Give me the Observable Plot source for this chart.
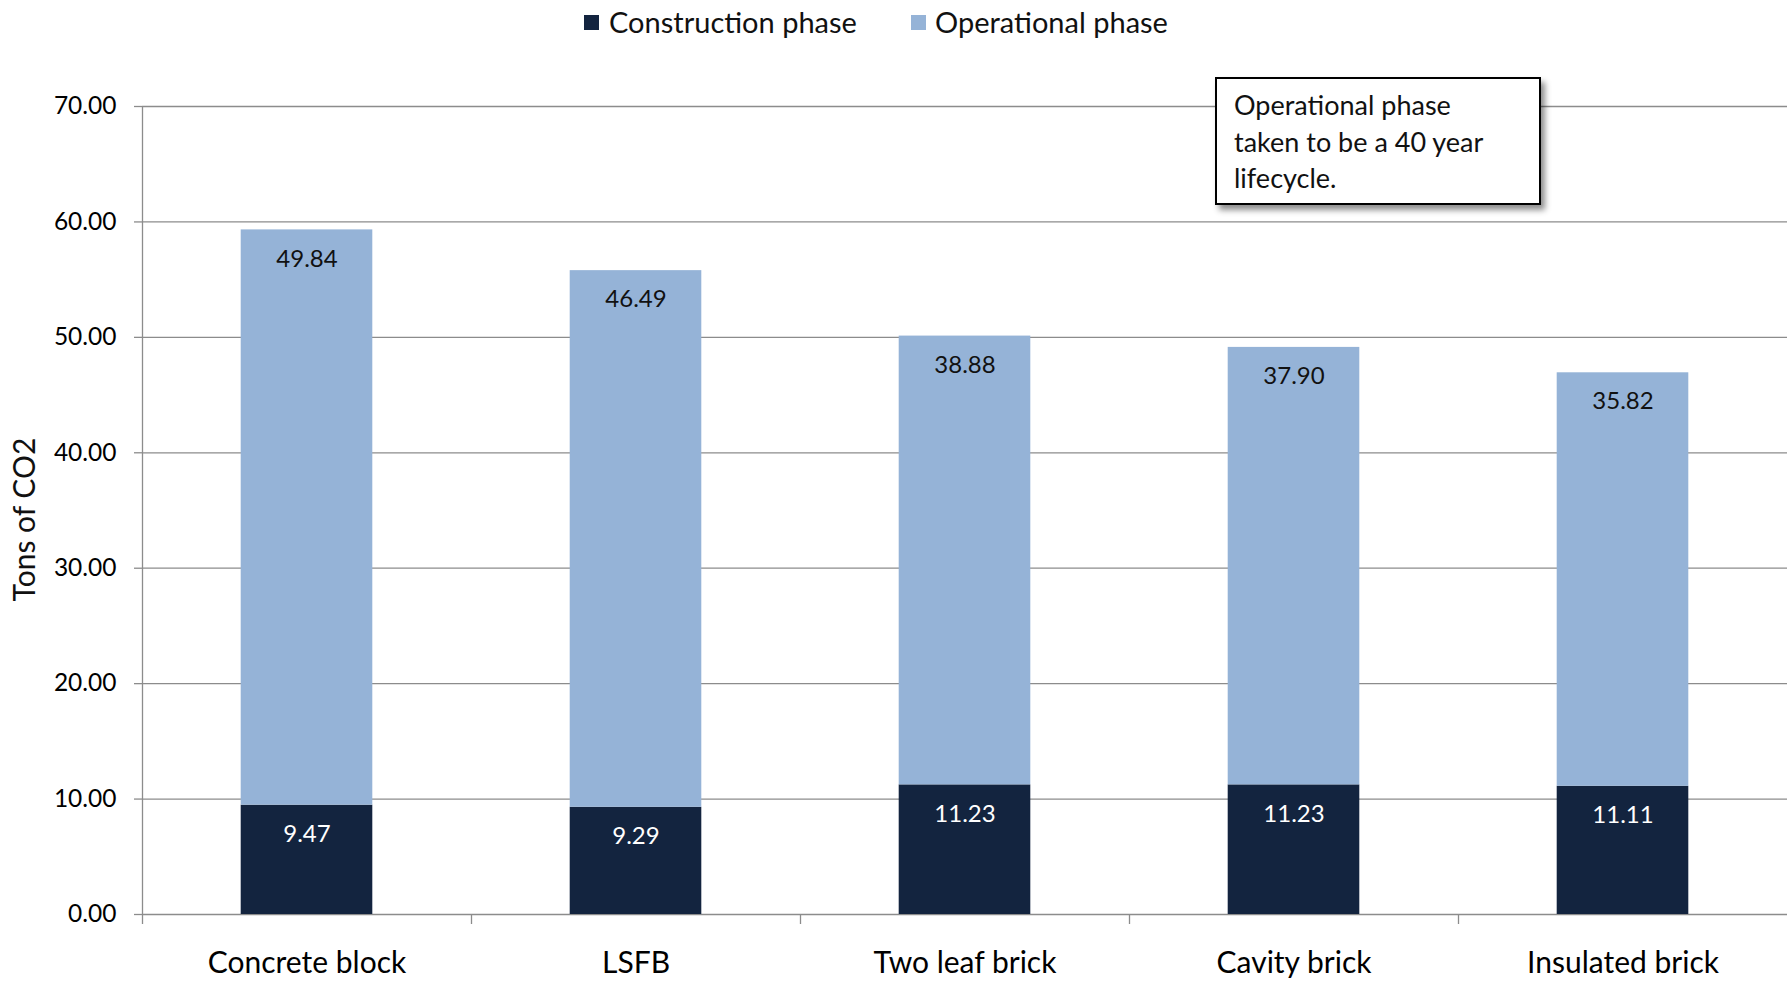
<!DOCTYPE html>
<html><head><meta charset="utf-8">
<script src="https://cdn.jsdelivr.net/npm/d3@7"></script>
<script src="https://cdn.jsdelivr.net/npm/@observablehq/plot@0.6"></script>
<style>
html,body{margin:0;padding:0;background:#fff;}
body{width:1787px;height:981px;position:relative;overflow:hidden;font-family:Lato,sans-serif;}
#legend{position:absolute;left:0;top:0;width:1787px;height:44px;}
.sw{position:absolute;top:15px;width:15px;height:15px;}
.lt{position:absolute;top:3px;font-size:29px;line-height:38px;color:#111;white-space:nowrap;}
#chart{position:absolute;left:0;top:44px;}
#note{position:absolute;left:1215px;top:77px;width:326px;height:128px;box-sizing:border-box;border:2px solid #000;background:#fff;
  box-shadow:4px 5px 6px rgba(0,0,0,0.45);padding:8px 0 0 17px;font-family:Lato,sans-serif;font-size:27px;line-height:36.5px;color:#111;white-space:nowrap;}
</style></head>
<body>
<div id="legend"></div>
<div id="chart"></div>
<div id="note"></div>
<script>
const categories = ["Concrete block","LSFB","Two leaf brick","Cavity brick","Insulated brick"];
const phases = ["Construction phase","Operational phase"];
const construction = [9.47, 9.29, 11.23, 11.23, 11.11];
const operational = [49.84, 46.49, 38.88, 37.90, 35.82];
const yTicks = [0, 10, 20, 30, 40, 50, 60, 70];
const phaseColors = ["#13243f", "#95b3d7"];
const yLabel = "Tons of CO2";
const noteLines = ["Operational phase", "taken to be a 40 year", "lifecycle."];

const data = [
  ...categories.map((c, i) => ({category: c, phase: phases[0], value: construction[i]})),
  ...categories.map((c, i) => ({category: c, phase: phases[1], value: operational[i]}))
];

const W = 1787, H = 937, mL = 142, mR = 0, mT = 62, mB = 67;
const step = (W - mL - mR) / categories.length;
const inset = step * 0.3;
const grid = "#8c8c8c";
const fmt = d => d.toFixed(2);

const chart = Plot.plot({
  width: W, height: H, marginLeft: mL, marginRight: mR, marginTop: mT, marginBottom: mB,
  style: {fontFamily: "Lato, sans-serif", background: "white", color: "#000"},
  x: {domain: categories, padding: 0, axis: null},
  y: {domain: [0, 70], axis: null},
  color: {domain: phases, range: phaseColors},
  marks: [
    Plot.gridY(yTicks, {stroke: grid, strokeOpacity: 1, strokeWidth: 1.3}),
    Plot.ruleX([categories[0]], {dx: -step / 2, stroke: grid, strokeWidth: 1.3}),
    Plot.axisY({ticks: yTicks, tickSize: 8, tickPadding: 18, tickFormat: fmt, fontSize: 24.5, stroke: grid, strokeWidth: 1.3, fill: "#000", label: null}),
    Plot.axisX({tickSize: 10, tickFormat: () => "", dx: -step / 2, stroke: grid, strokeWidth: 1.3, label: null}),
    Plot.axisX({tickSize: 0, tickPadding: 37, fontSize: 30, fill: "#000", label: null}),
    Plot.barY(data, {x: "category", y: "value", fill: "phase", z: "phase", insetLeft: inset, insetRight: inset}),
    Plot.text(data, Plot.stackY2({x: "category", y: "value", z: "phase",
      text: d => d.phase === phases[0] ? fmt(d.value) : null, fill: "white", fontSize: 24, dy: 29})),
    Plot.text(data, Plot.stackY2({x: "category", y: "value", z: "phase",
      text: d => d.phase === phases[1] ? fmt(d.value) : null, fill: "#111", fontSize: 24, dy: 29})),
    Plot.text([yLabel], {text: d => d, frameAnchor: "left", textAnchor: "middle", dx: -117, dy: 9, rotate: -90, fontSize: 30, fill: "#111"})
  ]
});
document.getElementById("chart").appendChild(chart);

// legend
const legend = document.getElementById("legend");
const swX = [584, 911], txX = [609, 935];
phases.forEach((p, i) => {
  const s = document.createElement("div");
  s.className = "sw"; s.style.left = swX[i] + "px"; s.style.background = phaseColors[i];
  legend.appendChild(s);
  const t = document.createElement("div");
  t.className = "lt"; t.style.left = txX[i] + "px"; t.textContent = p;
  legend.appendChild(t);
});

// note box
const note = document.getElementById("note");
noteLines.forEach((l, i) => {
  const d = document.createElement("div");
  d.textContent = l;
  note.appendChild(d);
});
</script>
</body></html>
